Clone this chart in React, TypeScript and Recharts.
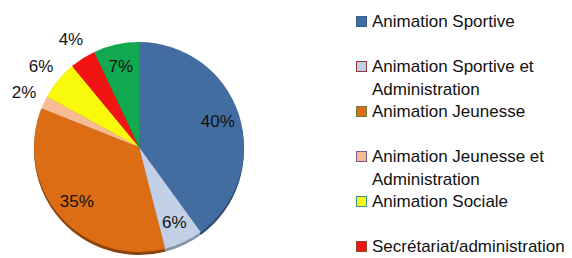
import { Cell, Pie, PieChart } from "recharts";

const categories = [
  "Animation Sportive",
  "Animation Sportive et Administration",
  "Animation Jeunesse",
  "Animation Jeunesse et Administration",
  "Animation Sociale",
  "Secrétariat/administration",
  "Autres",
];
const shares = [40, 6, 35, 2, 6, 4, 7];
// the legend box only has room for the first six entries
const legendCount = 6;

const colors = ["#436da1", "#c1d0e6", "#dc6d14", "#f6bb92", "#f9f90c", "#f21313", "#10a94f"];
const shadeColors = ["#2c4a70", "#8894a6", "#8a430c", "#a77d60", "#a6a608", "#a00c0c", "#0a6e33"];
const legendBorders = ["#3a5f8d", "#8c3b3b", "#6f7a3a", "#7a5a86", "#3a8fa0", "#8c4a2a", "#3a6a3a"];
// small slices get their label outside the pie
const labelOutside = [false, false, false, true, true, true, false];

const data = categories.map((name, i) => ({ name, value: shares[i] }));

const FONT = "'Liberation Sans', 'Noto Sans', sans-serif";
const RADIAN = Math.PI / 180;

function SliceLabel(props: any) {
  const { cx, cy, midAngle, outerRadius, value, index } = props;
  const r = outerRadius * (labelOutside[index] ? 1.21 : 0.79);
  const x = cx + r * Math.cos(-midAngle * RADIAN);
  const y = cy + r * Math.sin(-midAngle * RADIAN);
  return (
    <text x={x} y={y} fill="#111" fontSize={17} fontFamily={FONT} textAnchor="middle" dominantBaseline="central">
      {value}%
    </text>
  );
}

export default function App() {
  return (
    <div style={{ position: "absolute", left: 0, top: 0, width: 572, height: 258, overflow: "hidden", background: "#fff" }}>
      <PieChart width={300} height={258} margin={{ top: 0, right: 0, bottom: 0, left: 0 }}>
        <Pie
          data={data}
          dataKey="value"
          cx={139}
          cy={150}
          outerRadius={105}
          startAngle={90}
          endAngle={-270}
          stroke="none"
          isAnimationActive={false}
        >
          {data.map((_, i) => (
            <Cell key={i} fill={shadeColors[i]} />
          ))}
        </Pie>
        <Pie
          data={data}
          dataKey="value"
          cx={139}
          cy={147}
          outerRadius={105}
          startAngle={90}
          endAngle={-270}
          stroke="none"
          label={SliceLabel}
          labelLine={false}
          isAnimationActive={false}
        >
          {data.map((_, i) => (
            <Cell key={i} fill={colors[i]} />
          ))}
        </Pie>
      </PieChart>
      <div style={{ position: "absolute", left: 356, top: 10, fontFamily: FONT, fontSize: 17, color: "#111" }}>
        {categories.slice(0, legendCount).map((name, i) => (
          <div key={name} style={{ position: "absolute", top: i * 45, left: 0, width: 214, display: "flex", lineHeight: "23px" }}>
            <span
              style={{
                flex: "none",
                width: 9,
                height: 9,
                marginTop: 6,
                marginRight: 5,
                background: colors[i],
                border: `1px solid ${legendBorders[i]}`,
              }}
            />
            <span>{name}</span>
          </div>
        ))}
      </div>
    </div>
  );
}
